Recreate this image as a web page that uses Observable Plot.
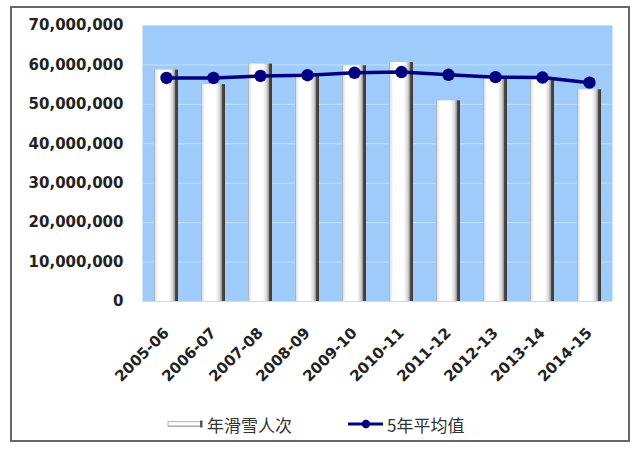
<!DOCTYPE html>
<html>
<head>
<meta charset="utf-8">
<script src="https://cdn.jsdelivr.net/npm/d3@7"></script>
<script src="https://cdn.jsdelivr.net/npm/@observablehq/plot@0.6"></script>
<style>
  html, body { margin: 0; padding: 0; background: #fff; width: 640px; height: 451px; overflow: hidden; }
  #frame { position: absolute; left: 10px; top: 6px; width: 620px; height: 436px; border: 2px solid #666; box-sizing: border-box; }
  #chart { position: absolute; left: 0; top: 0; }
  #legend { position: absolute; left: 0; top: 412px; width: 640px; height: 24px;
            font-family: "Noto Sans CJK SC", "DejaVu Sans", sans-serif; font-size: 17px; color: #333; }
  .item { position: absolute; top: 0; display: flex; align-items: center; height: 24px; }
  .item span { margin-left: 3px; }
</style>
</head>
<body>
<div id="frame"></div>
<div id="chart"></div>
<div id="legend">
  <div class="item" style="left:167px">
    <svg width="37" height="10">
      <defs>
        <linearGradient id="lgBar" x1="0" y1="0" x2="0" y2="1">
          <stop offset="0%" stop-color="#f4f4f4"/>
          <stop offset="60%" stop-color="#ffffff"/>
          <stop offset="100%" stop-color="#9a9a9a"/>
        </linearGradient>
      </defs>
      <rect x="1" y="2.5" width="33" height="5" fill="url(#lgBar)" stroke="#aaa" stroke-width="0.8"/>
      <rect x="33" y="1.5" width="2.5" height="7" fill="#555"/>
    </svg>
    <span id="lab1"></span>
  </div>
  <div class="item" style="left:347px">
    <svg width="37" height="12">
      <line x1="1" y1="6" x2="36" y2="6" stroke="#000080" stroke-width="3"/>
      <circle cx="19" cy="6" r="4.2" fill="#000080"/>
    </svg>
    <span id="lab2"></span>
  </div>
</div>
<script>
// Data
const seasons = ["2005-06","2006-07","2007-08","2008-09","2009-10","2010-11","2011-12","2012-13","2013-14","2014-15"];
const visits  = [58700000, 55000000, 60200000, 57200000, 59800000, 60600000, 50900000, 56600000, 56200000, 53700000];
const avg5    = [56700000, 56700000, 57200000, 57400000, 58000000, 58200000, 57500000, 56900000, 56800000, 55500000];
const yTicks  = [0, 10000000, 20000000, 30000000, 40000000, 50000000, 60000000, 70000000];
const seriesBar  = "年滑雪人次";
const seriesLine = "5年平均值";

document.getElementById("lab1").textContent = seriesBar;
document.getElementById("lab2").textContent = seriesLine;

const rows = seasons.map((s, i) => ({season: s, visits: visits[i], avg: avg5[i]}));

const defs = () => {
  const d = d3.create("svg:defs");
  const g = d.append("linearGradient").attr("id", "barGrad").attr("x1", 0).attr("y1", 0).attr("x2", 1).attr("y2", 0);
  [["0%", "#9a9a9a"], ["6%", "#e6e6e6"], ["18%", "#ffffff"], ["62%", "#ffffff"], ["78%", "#d6d6d6"], ["86%", "#9a9a9a"], ["89%", "#4a4a4a"], ["100%", "#3a3a3a"]]
    .forEach(([o, c]) => g.append("stop").attr("offset", o).attr("stop-color", c));
  return d.node();
};

const chart = Plot.plot({
  width: 640,
  height: 400,
  marginLeft: 142,
  marginRight: 28,
  marginTop: 25,
  marginBottom: 99,
  style: {fontFamily: "'DejaVu Sans', Verdana, sans-serif", fontSize: "15px", fontWeight: "bold", color: "#222", background: "transparent"},
  x: {domain: seasons, paddingInner: 0.49, paddingOuter: 0.245, label: null},
  y: {domain: [0, 70000000], label: null},
  marks: [
    defs,
    Plot.frame({fill: "#9ecbf9", stroke: "none"}),
    Plot.gridY(yTicks, {stroke: "#c3defb", strokeOpacity: 1, strokeWidth: 1}),
    Plot.barY(rows, {x: "season", y: "visits", fill: "url(#barGrad)"}),
    Plot.line(rows, {x: "season", y: "avg", stroke: "#000080", strokeWidth: 3.5}),
    Plot.dot(rows, {x: "season", y: "avg", fill: "#000080", r: 6.2}),
    Plot.axisY({ticks: yTicks, tickFormat: d3.format(","), tickSize: 0, tickPadding: 19, label: null}),
    Plot.axisX({tickRotate: -45, tickSize: 0, tickPadding: 29, label: null})
  ]
});
document.getElementById("chart").appendChild(chart);
</script>
</body>
</html>
